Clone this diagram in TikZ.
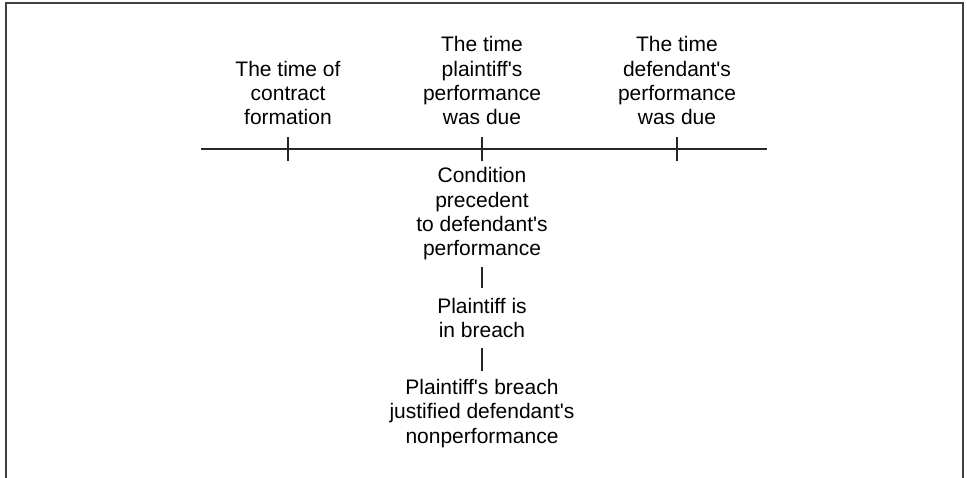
\documentclass[tikz,border=0pt]{standalone}
\usepackage{fontspec}
\setmainfont{Liberation Sans}[Ligatures=TeXOff]
\begin{document}
\begin{tikzpicture}[x=1pt,y=-1pt,
  lbl/.style={align=center,inner sep=0pt,anchor=base,font=\fontsize{21}{24.4}\selectfont},
  ln/.style={line width=1.2pt,draw=black!85},
  frame/.style={line width=1.5pt,draw=black!75}]
\useasboundingbox (0,0) rectangle (967,478);
% frame
\draw[frame] (6,478) -- (6,3) -- (963,3) -- (963,478);
% axis
\coordinate (axL) at (201,149);
\coordinate (axR) at (767,149);
\coordinate (t1) at (288,149);
\coordinate (t2) at (482,149);
\coordinate (t3) at (677,149);
\draw[ln] (axL) -- (axR);
\foreach \t in {t1,t2,t3}{\draw[ln] ([yshift=-12]\t) -- ([yshift=12]\t);}
% labels (anchor = baseline of last line)
\node[lbl] (formation) at (288,125) {The time of\\contract\\formation};
\node[lbl] (pdue) at (482,125) {The time\\plaintiff's\\performance\\was due};
\node[lbl] (ddue) at (677,125) {The time\\defendant's\\performance\\was due};
\node[lbl] (cond) at (482,256) {Condition\\precedent\\to defendant's\\performance};
\node[lbl] (breach) at (482,338) {Plaintiff is\\in breach};
\node[lbl] (just) at (482,443) {Plaintiff's breach\\justified defendant's\\nonperformance};
\draw[ln] ([yshift=-6]cond.south) -- ([yshift=10]breach.north);
\draw[ln] ([yshift=-10]breach.south) -- ([yshift=8]just.north);
\end{tikzpicture}
\end{document}
